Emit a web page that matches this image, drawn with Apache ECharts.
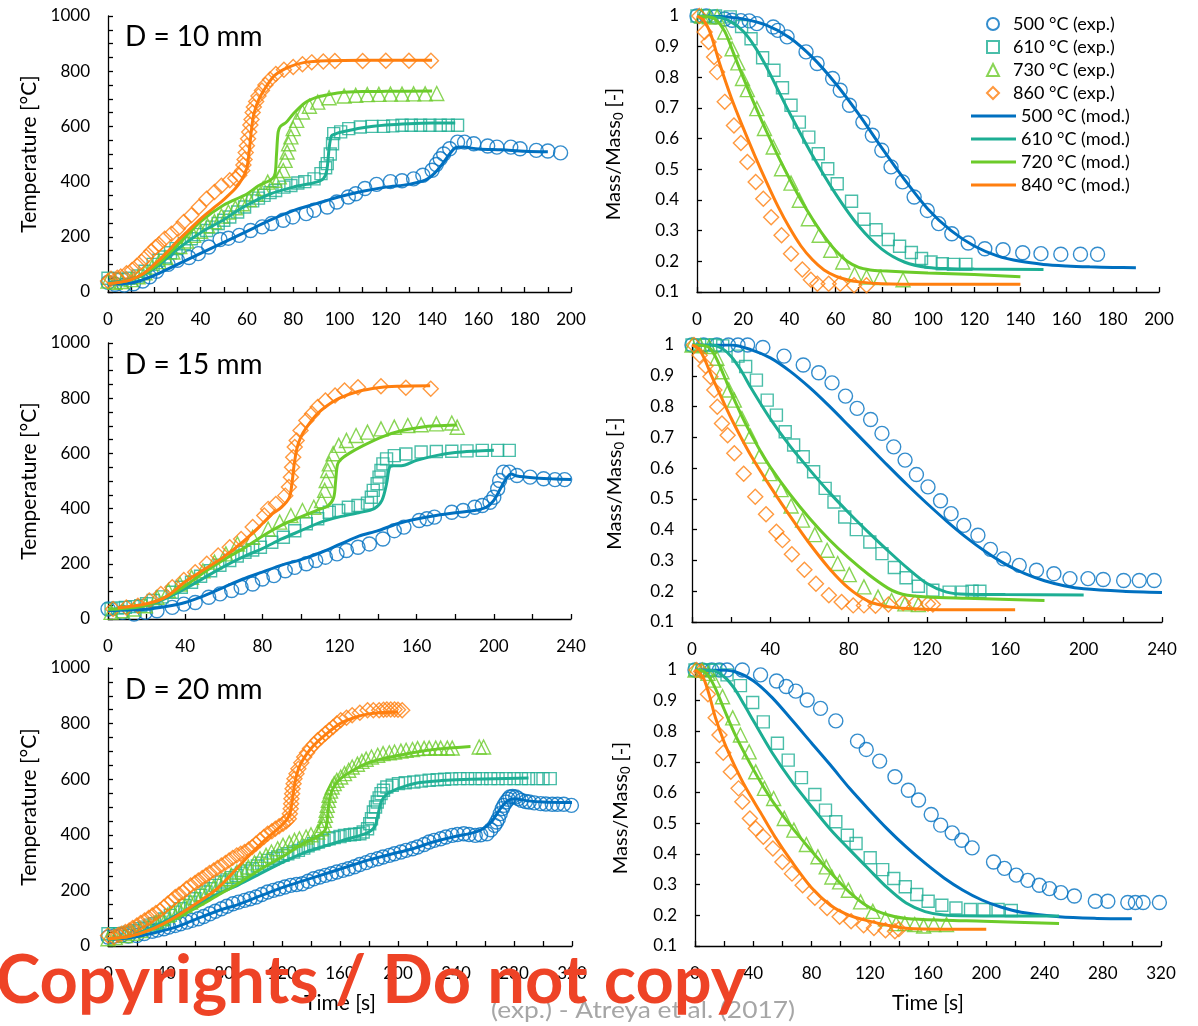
<!DOCTYPE html>
<html><head><meta charset="utf-8">
<script src="https://cdn.jsdelivr.net/npm/echarts@6/dist/echarts.min.js"></script>
<style>html,body{margin:0;padding:0;background:#fff}#c{width:1198px;height:1026px}</style>
</head><body><div id="c"></div>
<script>
// ---------- names / labels ----------
const expNames = ['500 °C (exp.)','610 °C (exp.)','730 °C (exp.)','860 °C (exp.)'];
const modNames = ['500 °C (mod.)','610 °C (mod.)','720 °C (mod.)','840 °C (mod.)'];
const panelTitles = ['D = 10 mm','D = 15 mm','D = 20 mm'];
const colors = ['#0070C0','#1DAE94','#6CCB2A','#FF7F0F'];

// ---------- D = 10 mm, temperature ----------
const d10T_exp500 = [[0,35],[3,28],[7,25],[11,30],[15,40],[18,55],[21,75],[26,100],[30,115],[35,125],[39,139],[43.5,163],[48.4,190],[52,195],[56.7,205],[61.6,223],[66.6,236],[70.7,248],[75.7,260],[79.8,272],[85.6,284],[89,296],[94.7,308],[98.8,326],[103.8,344],[107,356],[111,375],[116,390],[122,400],[127,403],[132,410],[136,423],[140,441],[141.8,462],[143.5,483],[145,500],[147.6,519],[151,543],[154,543],[158,537],[164,529],[168,525],[174,525],[178,519],[185,513],[190,511],[195.5,504]];
const d10T_exp610 = [[0,50],[3,48],[6,45],[9,50],[13,58],[16,75],[19.5,100],[22,115],[24.5,127],[27,142],[29.4,157],[33,175],[36,193],[39,208],[42.6,223],[45,235],[47.6,248],[50,260],[52.6,272],[56,290],[59,308],[62.5,330],[65,340],[67.4,350],[70,360],[72.4,368],[76,380],[79,386],[82,395],[85,400],[89,410],[92,429],[94,450],[94.7,465],[96,500],[97,537],[97.5,574],[100.5,580],[104,592],[109,598],[114,600],[119,600],[123,602],[127,604],[131,604],[135,604],[139,604],[143.5,604],[147,604],[151,604]];
const d10T_exp730 = [[0,40],[3,35],[6,38],[10,45],[13,55],[16,70],[19,90],[22,110],[25,125],[28,145],[31,165],[34,185],[37,205],[40,220],[43,240],[46,255],[49,275],[52,290],[55,305],[58,320],[61,335],[64,355],[67,375],[69,398],[72,405],[74,417],[75.7,440],[76.5,477],[77.4,507],[78,537],[79,562],[80,592],[81.5,622],[84,652],[87,673],[90.6,688],[95.5,704],[102,710],[107,713],[112,715],[117,716],[122,717],[127,717],[132,718],[137,718],[142,719]];
const d10T_exp860 = [[0,40],[1.3,48],[4,52],[5.5,56],[8,68],[10.4,80],[12.5,95],[14.5,110],[16.5,128],[18.7,148],[20.5,162],[22,172],[24.5,193],[27.4,211],[30.2,229],[32.7,254],[36,278],[39.3,308],[42.6,338],[46,362],[49,385],[52.6,405],[55,412],[56.7,423],[58,440],[58.5,460],[59,480],[59.5,505],[60,530],[60.5,555],[61,580],[61.5,605],[62,625],[62.5,650],[63,670],[64,690],[65,710],[66.5,730],[68,750],[70,770],[72.5,790],[76,805],[80,815],[84,825],[88,832],[93,835],[98,837],[110,837],[120,838],[130,838],[139.5,838]];
const d10T_mod500 = [[0,30],[10,33],[20,60],[30,100],[40,140],[50,180],[60,220],[70,260],[80,295],[90,320],[100,345],[110,365],[120,380],[130,390],[137,405],[141,430],[145,470],[148,505],[150,522],[153,525],[160,518],[170,515],[180,510],[190,508]];
const d10T_mod610 = [[0,35],[10,45],[20,85],[30,155],[40,215],[50,262],[55,290],[60,315],[70,355],[80,380],[90,398],[93,410],[94.5,440],[95.5,520],[96.5,565],[98,572],[100,578],[110,595],[120,605],[130,610],[140,612],[150,612]];
const d10T_mod720 = [[0,30],[10,45],[20,90],[30,170],[40,255],[50,315],[60,355],[65,385],[70,405],[72,420],[72.8,500],[73.5,580],[74.5,600],[77,615],[80,645],[85,685],[90,705],[95,715],[100,722],[110,726],[120,727],[140,728]];
const d10T_mod840 = [[0,30],[5,35],[10,45],[15,65],[20,100],[25,140],[30,185],[35,225],[40,265],[45,300],[50,335],[55,375],[58,410],[60,450],[61,510],[62,590],[63,645],[65,695],[68,740],[72,785],[78,815],[85,832],[95,838],[110,840],[140,840]];

// ---------- D = 10 mm, mass ----------
const d10M_exp500 = [[0,1],[4,1],[7.9,0.997],[12,0.99],[15.2,0.986],[19,0.985],[22.6,0.984],[25.9,0.975],[33,0.964],[35,0.953],[39,0.932],[47.2,0.883],[52,0.845],[58.7,0.796],[62,0.758],[66,0.709],[71.8,0.654],[75.9,0.611],[80,0.562],[84,0.508],[89,0.459],[94,0.41],[99.7,0.366],[104.6,0.323],[110.3,0.29],[117.4,0.26],[124.6,0.241],[132.5,0.238],[141,0.228],[148.9,0.225],[157.5,0.223],[166,0.223],[173.4,0.223]];
const d10M_exp610 = [[0,1],[3,1],[8,1],[14.4,0.997],[19.3,0.966],[23.4,0.926],[28.4,0.864],[33.3,0.823],[37,0.766],[40.7,0.709],[44.3,0.654],[48.4,0.605],[52.5,0.551],[56.6,0.502],[60.7,0.453],[66.9,0.396],[72.3,0.337],[77.5,0.303],[82.8,0.271],[87.7,0.249],[92.8,0.229],[97.2,0.209],[101.3,0.198],[106.2,0.192],[111,0.19],[116.4,0.19]];
const d10M_exp730 = [[2,1],[5.4,0.997],[8.7,0.997],[12,0.948],[15.2,0.893],[17.7,0.847],[19.7,0.796],[21.8,0.76],[25.9,0.698],[29.2,0.633],[33,0.573],[36.6,0.502],[40.7,0.455],[44.3,0.399],[48.2,0.339],[52.9,0.285],[57.9,0.236],[63.1,0.198],[68.2,0.157],[73.4,0.149],[79.3,0.147],[89.2,0.14]];
const d10M_exp860 = [[1,1],[3.3,0.948],[5,0.915],[7.4,0.866],[8.7,0.817],[12,0.72],[16,0.643],[19,0.586],[21.8,0.524],[25.4,0.459],[28.7,0.404],[32.1,0.344],[36.6,0.285],[40.7,0.225],[45.6,0.173],[49.3,0.14],[52.1,0.127],[57,0.127],[62,0.127],[68,0.122],[73.4,0.122]];
const d10M_mod500 = [[0,1],[10,0.998],[20,0.99],[30,0.97],[40,0.93],[50,0.865],[60,0.78],[70,0.68],[80,0.57],[90,0.465],[100,0.37],[110,0.3],[120,0.25],[130,0.218],[140,0.2],[150,0.19],[160,0.185],[170,0.182],[180,0.18],[190,0.179]];
const d10M_mod610 = [[0,1],[10,0.995],[15,0.98],[20,0.95],[25,0.9],[30,0.835],[35,0.76],[40,0.685],[50,0.545],[60,0.42],[70,0.315],[80,0.24],[90,0.197],[100,0.18],[110,0.176],[120,0.175],[150,0.173]];
const d10M_mod720 = [[0,1],[5,0.997],[8,0.99],[12,0.95],[16,0.875],[20,0.8],[25,0.71],[30,0.625],[35,0.545],[40,0.47],[45,0.4],[50,0.338],[55,0.282],[60,0.235],[65,0.2],[70,0.18],[75,0.172],[80,0.169],[100,0.162],[120,0.157],[140,0.15]];
const d10M_mod840 = [[0,1],[3,0.985],[6,0.94],[10,0.84],[15,0.73],[20,0.635],[25,0.545],[30,0.46],[35,0.38],[40,0.31],[45,0.25],[50,0.205],[55,0.172],[60,0.152],[65,0.14],[70,0.133],[80,0.127],[100,0.125],[140,0.125]];

// ---------- D = 15 mm, temperature ----------
const d15T_exp500 = [[0,36],[7.5,24],[13.5,18],[19.4,24],[25.4,30],[33.3,42],[39.3,54],[45.2,60],[52.2,79],[58.1,91],[64.1,103],[69,115],[75,127],[80,145],[86,157],[91.9,175],[96.8,187],[102.8,200],[107.7,212],[112.7,224],[118.7,236],[123.6,248],[129.6,260],[135.5,272],[142.5,290],[148.4,320],[153.4,333],[161.3,357],[165.3,363],[169.2,369],[178.2,387],[184.1,393],[190.1,405],[194,411],[198,423],[200,441],[202,472],[203,502],[205,532],[208,532],[212,520],[218.8,514],[225.8,508],[231.7,505],[236.7,505]];
const d15T_exp610 = [[1.6,36],[5,40],[9,42],[13,45],[17,48],[20,55],[23.4,67],[28,80],[33.3,97],[38,115],[43.3,133],[48,155],[53.2,175],[58,195],[63.1,212],[67,228],[71,242],[75,250],[79,260],[84.9,278],[90.9,296],[96.8,320],[102.8,345],[108.7,363],[114.7,387],[119.6,393],[124.6,405],[129.6,411],[134.5,420],[136.5,441],[137.5,466],[139.5,490],[140.5,514],[141.5,538],[142.5,562],[144.4,580],[148.4,592],[154.4,598],[162.3,605],[170.2,607],[178.2,608],[186.1,609],[194,611],[202,611],[208,611]];
const d15T_exp730 = [[1.6,24],[7.5,30],[13.5,36],[19.4,48],[25.4,79],[31.3,103],[37.3,127],[43.3,151],[49.2,175],[55.2,206],[61.1,236],[67.1,272],[75,296],[83,326],[89,351],[94.8,375],[100.8,393],[106.7,405],[110.7,429],[112.3,466],[113.1,502],[113.9,538],[114.7,562],[116.7,599],[119.6,629],[123.6,647],[128.6,665],[134.5,677],[141.5,689],[148.4,695],[155.4,701],[162.3,704],[170.2,707],[178.2,710],[181,695]];
const d15T_exp860 = [[2.6,36],[9.5,42],[15.5,48],[21.4,67],[27.4,91],[33.3,115],[39.3,141],[45.2,169],[51.2,200],[57.1,230],[63.1,260],[69,290],[75,333],[81,375],[83,399],[87,417],[91.9,447],[93.8,478],[94.8,514],[95.4,550],[96,586],[96.8,623],[97.8,647],[99.8,683],[102.8,719],[105.8,744],[108.7,768],[112.7,792],[117.7,810],[122.6,828],[129.6,840],[141.5,843],[154.4,838],[167.3,834]];
const d15T_mod500 = [[0,30],[20,35],[30,45],[40,60],[50,85],[60,115],[70,145],[80,170],[90,195],[100,215],[110,240],[120,270],[130,300],[140,320],[150,345],[160,362],[170,375],[180,385],[190,393],[196,405],[200,430],[204,480],[207,515],[209,525],[212,518],[220,512],[230,508],[240,505]];
const d15T_mod610 = [[0,35],[10,38],[20,50],[30,75],[40,110],[50,150],[60,190],[70,225],[80,255],[90,290],[100,320],[110,350],[120,370],[130,385],[138,400],[142,430],[144.4,490],[146,550],[148,555],[152,555],[160,575],[170,592],[180,603],[190,608],[200,611]];
const d15T_mod720 = [[0,35],[10,40],[20,50],[30,80],[40,120],[50,170],[60,215],[70,255],[80,300],[90,340],[100,370],[108,393],[114,410],[117,440],[118,500],[119,560],[121,580],[125,600],[132.5,629],[142.5,661],[152.4,683],[162.3,695],[170,700],[181,703]];
const d15T_mod840 = [[5,40],[20,55],[30,80],[40,135],[50,180],[60,225],[70,280],[80,345],[85,380],[90,405],[94,440],[95.5,500],[96.5,560],[98,620],[100,660],[103,695],[108,740],[113,770],[120,800],[130,825],[140,838],[150,843],[167,845]];

// ---------- D = 15 mm, mass ----------
const d15M_exp500 = [[0,1],[5.9,1],[12.7,1],[18.6,1],[23.5,1],[28.4,1],[36.2,0.992],[47,0.964],[56.8,0.935],[64.7,0.91],[71.5,0.877],[78.4,0.834],[84.3,0.794],[91.2,0.758],[97,0.713],[103,0.669],[108.8,0.626],[114.6,0.579],[120.5,0.539],[126.9,0.494],[132.3,0.452],[138.8,0.414],[146,0.382],[152.4,0.336],[159.1,0.305],[167.1,0.284],[175.9,0.268],[184.8,0.257],[193,0.241],[202.2,0.241],[210,0.238],[220.4,0.235],[228.4,0.235],[236,0.235]];
const d15M_exp610 = [[0,1],[3.9,1],[7.8,1],[11.8,1],[15.7,0.997],[23.5,0.964],[27.4,0.93],[32.9,0.886],[38.4,0.821],[43.1,0.772],[47.6,0.718],[51.9,0.675],[56.8,0.637],[62.1,0.588],[68,0.534],[72.5,0.49],[78,0.441],[83.9,0.4],[90.8,0.36],[97,0.322],[103.3,0.277],[109.3,0.244],[115.6,0.216],[123,0.203],[131.3,0.197],[138,0.197],[143,0.2],[147,0.2]];
const d15M_exp730 = [[0,1],[4.3,0.997],[8.8,0.995],[12.7,0.957],[15.3,0.913],[18.8,0.854],[21.6,0.821],[25.5,0.761],[29.8,0.704],[34.5,0.639],[39.8,0.582],[45.5,0.53],[50.6,0.477],[56.4,0.431],[62.7,0.384],[69,0.333],[74.4,0.29],[80.3,0.254],[87.8,0.214],[95,0.181],[101.9,0.17],[108.7,0.159],[115.6,0.157]];
const d15M_exp860 = [[1,1],[3.9,0.967],[6.9,0.932],[9.4,0.897],[11.4,0.854],[12.9,0.799],[15.3,0.745],[18.2,0.707],[21.6,0.648],[26.4,0.582],[32.3,0.507],[37.8,0.45],[43.1,0.393],[46.2,0.366],[51,0.32],[57.4,0.27],[63.3,0.224],[69.9,0.187],[76.4,0.165],[82.3,0.154],[87.8,0.154],[93.7,0.153],[100.3,0.157],[107.8,0.162],[114,0.162],[120.5,0.159],[123,0.157]];
const d15M_mod500 = [[0,1],[20,1],[30,0.985],[40,0.958],[50,0.915],[60,0.862],[70,0.802],[80,0.738],[90,0.673],[100,0.608],[110,0.545],[120,0.485],[130,0.428],[140,0.375],[150,0.328],[160,0.288],[170,0.257],[180,0.234],[190,0.218],[200,0.208],[220,0.2],[240,0.196]];
const d15M_mod610 = [[0,1],[10,1],[15,0.99],[20,0.963],[25,0.918],[30,0.862],[40,0.76],[50,0.672],[60,0.595],[70,0.522],[80,0.455],[90,0.392],[100,0.332],[110,0.275],[120,0.225],[130,0.197],[140,0.19],[160,0.189],[200,0.188]];
const d15M_mod720 = [[0,1],[8,0.995],[12,0.962],[16,0.905],[20,0.845],[25,0.775],[30,0.712],[35,0.655],[40,0.603],[50,0.515],[60,0.437],[70,0.368],[80,0.308],[90,0.255],[100,0.21],[105,0.195],[110,0.187],[120,0.181],[140,0.177],[180,0.17]];
const d15M_mod840 = [[0,1],[3,0.99],[6,0.96],[10,0.9],[15,0.83],[20,0.762],[25,0.7],[30,0.642],[40,0.54],[50,0.445],[60,0.355],[70,0.275],[80,0.21],[90,0.168],[100,0.15],[110,0.144],[130,0.14],[165,0.14]];

// ---------- D = 20 mm, temperature ----------
const d20T_exp500 = [[0,32],[4,35],[9.3,38],[14,36],[19.9,38],[25,45],[30.5,53],[34,57],[38.5,62],[42,68],[46.4,74],[50,80],[54.4,86],[58,92],[62.3,98],[66,106],[70.3,116],[74,125],[78.2,134],[82,143],[86.2,152],[90,158],[94.2,164],[98,170],[102.1,176],[106,185],[110.1,194],[114,200],[118,206],[122,212],[126,218],[130,221],[134,224],[138,233],[141.9,242],[146,248],[149.9,254],[154,260],[157.8,266],[162,272],[165.8,278],[170,285],[173.7,293],[178,300],[181.7,308],[186,314],[189.7,320],[194,326],[197.6,332],[202,338],[205.6,344],[210,350],[213.5,356],[218,365],[221.5,374],[225,380],[229.4,386],[233,392],[237.4,398],[241,401],[245.4,404],[249,401],[253.3,398],[257,400],[261.3,404],[264,418],[266.6,434],[268,446],[269.2,458],[270.5,476],[271.9,494],[273,506],[274.5,518],[276,528],[277.2,536],[279,538],[281.2,536],[283,530],[285.1,524],[288,520],[290.5,518],[294,515],[298.4,512],[302,511],[306.4,510],[310,510],[314.3,510],[319.6,506]];
const d20T_exp610 = [[0,44],[4,44],[8,44],[12,46],[14.6,50],[18,55],[22,62],[25.2,68],[29,75],[32,80],[35.8,86],[39,97],[43,110],[46.4,122],[50,134],[53,146],[57,158],[60,170],[64,182],[67.6,194],[71,206],[74,218],[78.2,230],[82,238],[85,246],[88.8,254],[92,262],[96,270],[99.5,278],[103,288],[106,298],[110.1,308],[114,314],[117,320],[120.7,326],[124,332],[128,338],[131.3,344],[135,352],[138,360],[141.9,368],[145,374],[149,380],[152.5,386],[156,390],[160,394],[163.1,398],[167,400],[170,402],[173.7,404],[176,410],[179,422],[180.5,440],[181.7,458],[183,482],[184.5,500],[185.7,518],[187,533],[188.3,548],[190,560],[192.3,572],[196,578],[200.3,584],[205,587],[210.9,590],[216,593],[221.5,596],[227,598],[232.1,600],[237,601],[242.7,602],[248,602],[253.3,602],[258,602],[263.9,602],[269,602],[274.5,602],[280,602],[285.1,602],[290,602],[295.8,602],[300,602],[305,602]];
const d20T_exp730 = [[0,26],[5,30],[11.9,38],[17,46],[22.5,56],[28,70],[33.2,86],[37,98],[41.1,110],[45,122],[49.1,134],[53,146],[57,158],[61,173],[65,188],[69,200],[72.9,212],[77,227],[80.9,242],[85,254],[88.9,266],[93,275],[96.8,284],[101,299],[104.8,314],[109,326],[112.7,338],[117,350],[120.7,362],[125,371],[128.6,380],[132,386],[136.6,392],[140,400],[144.6,410],[147,422],[148.5,434],[149.2,452],[149.9,470],[150.5,488],[151.2,506],[152,524],[152.5,542],[153.5,557],[154.6,572],[156,584],[157.8,596],[160.5,608],[163.1,620],[166,632],[168.4,644],[172,654],[175.1,664],[178,672],[181.7,680],[186,686],[189.7,692],[194,695],[197.6,698],[202,701],[205.6,704],[210,707],[213.5,710],[218,711],[221.5,712],[226,712],[229.4,712],[234,712],[237.4,712],[256,716],[259,716]];
const d20T_exp860 = [[0,38],[4,32],[7,40],[9.3,44],[12,50],[14.6,56],[17,65],[19.9,74],[22.5,83],[25.2,92],[28,101],[30.5,110],[33,119],[35.8,128],[38.5,140],[41.1,152],[44,164],[46.4,176],[49,185],[51.7,194],[54,206],[57,218],[60,227],[62.3,236],[65,245],[67.6,254],[70,263],[72.9,272],[75.5,281],[78.2,290],[81,299],[83.5,308],[86,317],[88.8,326],[91.5,332],[94.2,338],[97,347],[99.5,356],[102,368],[104.8,380],[107.5,392],[110.1,404],[113,413],[115.4,422],[118,431],[120.7,440],[123,449],[124.7,458],[125.4,476],[126,494],[126.3,512],[126.5,530],[127,548],[127.3,566],[128,584],[128.6,602],[130,620],[131.3,638],[133.3,659],[135.3,680],[137.3,695],[139.3,710],[142,725],[144.6,740],[147.3,752],[149.9,764],[152.5,776],[155.2,788],[157.8,800],[160.5,812],[164.5,821],[168.4,830],[173.7,839],[179,848],[183,848],[187,848],[190,850],[192.3,851],[195,851],[197.6,851],[200,850],[202.9,848]];
const d20T_mod500 = [[0,25],[15,30],[30,45],[45,65],[60,95],[75,125],[90,150],[105,180],[120,210],[135,235],[150,260],[165,285],[180,310],[195,330],[210,350],[225,375],[240,395],[250,405],[258,420],[265,450],[270,490],[275,520],[280,530],[290,522],[300,518],[320,516]];
const d20T_mod610 = [[0,25],[15,35],[30,65],[45,105],[60,145],[75,185],[90,220],[105,260],[120,300],[135,335],[150,360],[165,385],[178,405],[184,430],[186.5,480],[188.5,520],[192,545],[197,560],[205,575],[215,588],[230,595],[250,600],[290,604]];
const d20T_mod720 = [[0,25],[15,35],[30,60],[45,95],[60,135],[75,180],[90,225],[105,275],[120,320],[135,370],[145,395],[150,420],[151.5,470],[152.5,520],[155,565],[160,600],[170,635],[180,660],[190,675],[200,685],[215,700],[230,710],[250,718]];
const d20T_mod840 = [[0,26],[15,35],[30,60],[45,100],[60,150],[75,205],[90,285],[100,340],[110,390],[120,435],[125,470],[127,520],[129,590],[132,645],[137,690],[142,722],[150,760],[160,800],[170,822],[180,835],[190,840],[200,842]];

// ---------- D = 20 mm, mass ----------
const d20M_exp500 = [[0,1],[5,1],[11.5,1],[16.8,1],[22,1],[32.5,1],[45,0.984],[56,0.964],[62.6,0.946],[69.2,0.931],[77,0.902],[86.2,0.875],[96.7,0.834],[111.6,0.768],[117.6,0.741],[126.8,0.703],[137.3,0.652],[146.5,0.608],[153.5,0.576],[162.2,0.529],[168.7,0.494],[176.6,0.469],[183.2,0.445],[190.3,0.42],[205,0.374],[212.5,0.353],[220.6,0.331],[228.5,0.314],[236.4,0.298],[243.4,0.287],[251.3,0.274],[260.5,0.263],[274.9,0.246],[283.5,0.246],[297.2,0.242],[302.4,0.242],[307.7,0.242],[318.9,0.242]];
const d20M_exp610 = [[0,1],[5,1],[10,1],[14.2,1],[22,0.984],[31.2,0.949],[39.6,0.894],[46.9,0.831],[56.6,0.761],[64,0.706],[73.1,0.649],[82.3,0.594],[89.6,0.543],[96.7,0.505],[104.6,0.461],[110.6,0.434],[120.3,0.388],[128.9,0.349],[136.5,0.32],[144.4,0.293],[152.3,0.268],[160.1,0.246],[169.5,0.233],[179.2,0.224],[189.2,0.219],[198.4,0.219],[208.1,0.219],[217.2,0.216]];
const d20M_exp730 = [[0,1],[5,1],[8.9,0.989],[12.8,0.967],[18.9,0.913],[25.9,0.844],[31.2,0.788],[37.2,0.733],[41.7,0.668],[47.7,0.614],[54,0.581],[61.3,0.516],[67.9,0.478],[76.5,0.431],[84.4,0.391],[90.1,0.358],[94,0.325],[99.3,0.309],[105.3,0.282],[113.7,0.244],[122.1,0.213],[130.8,0.189],[138.1,0.173],[144.1,0.173],[150.9,0.17],[157,0.165],[164,0.17],[172.7,0.17]];
const d20M_exp860 = [[1,1],[4.2,0.995],[8.9,0.921],[14.2,0.844],[16.8,0.788],[19.4,0.73],[24.6,0.668],[29.9,0.614],[32.5,0.57],[37.7,0.516],[41.7,0.483],[46.9,0.456],[53.5,0.418],[60,0.374],[66.6,0.336],[73.9,0.298],[82.3,0.257],[90.7,0.224],[99.3,0.195],[107.2,0.181],[115.8,0.168],[122.9,0.159],[130.8,0.151],[137.3,0.148],[140,0.155]];
const d20M_mod500 = [[0,1],[15,1],[27,0.995],[40,0.965],[53,0.91],[66,0.84],[80,0.762],[93,0.69],[106,0.615],[119,0.547],[132,0.482],[145,0.423],[158,0.37],[171,0.322],[184,0.282],[197,0.25],[210,0.227],[224,0.21],[250,0.195],[276,0.19],[300,0.189]];
const d20M_mod610 = [[0,1],[12,0.998],[20,0.978],[27,0.94],[34,0.885],[40,0.835],[53,0.73],[66,0.64],[80,0.555],[93,0.48],[106,0.415],[119,0.352],[132,0.29],[145,0.24],[158,0.212],[171,0.201],[198,0.198],[250,0.198]];
const d20M_mod720 = [[0,1],[6,0.995],[10,0.975],[14,0.94],[20,0.872],[27,0.795],[35,0.72],[45,0.635],[55,0.56],[66,0.49],[80,0.41],[93,0.34],[106,0.276],[119,0.228],[132,0.202],[145,0.19],[171,0.184],[198,0.181],[250,0.173]];
const d20M_mod840 = [[0,1],[3,0.99],[6,0.972],[10,0.915],[14,0.845],[20,0.765],[27,0.69],[35,0.615],[45,0.535],[55,0.455],[66,0.378],[80,0.29],[93,0.233],[106,0.2],[119,0.182],[132,0.168],[145,0.158],[171,0.155],[200,0.155]];

// ---------- axis ranges / ticks ----------
const tempTicks = {min:0, max:1000, interval:200};
const massTicks = {min:0.1, max:1, interval:0.1};
const timeRanges = [{max:200, interval:20},{max:200, interval:20},{max:240, interval:40},{max:240, interval:40},{max:320, interval:40},{max:320, interval:40}];

// ---------- build ----------
const FONT = 'Lato, "Open Sans", sans-serif';
const panels = [
  {exp:[d10T_exp500,d10T_exp610,d10T_exp730,d10T_exp860], mod:[d10T_mod500,d10T_mod610,d10T_mod720,d10T_mod840]},
  {exp:[d10M_exp500,d10M_exp610,d10M_exp730,d10M_exp860], mod:[d10M_mod500,d10M_mod610,d10M_mod720,d10M_mod840]},
  {exp:[d15T_exp500,d15T_exp610,d15T_exp730,d15T_exp860], mod:[d15T_mod500,d15T_mod610,d15T_mod720,d15T_mod840]},
  {exp:[d15M_exp500,d15M_exp610,d15M_exp730,d15M_exp860], mod:[d15M_mod500,d15M_mod610,d15M_mod720,d15M_mod840]},
  {exp:[d20T_exp500,d20T_exp610,d20T_exp730,d20T_exp860], mod:[d20T_mod500,d20T_mod610,d20T_mod720,d20T_mod840]},
  {exp:[d20M_exp500,d20M_exp610,d20M_exp730,d20M_exp860], mod:[d20M_mod500,d20M_mod610,d20M_mod720,d20M_mod840]}
];
const grids = [
  {left:108, top:16, width:463, height:276},
  {left:697, top:16, width:462, height:276},
  {left:108, top:343, width:463, height:276},
  {left:692, top:345, width:470, height:277},
  {left:108, top:668, width:464, height:278},
  {left:695, top:670, width:466, height:276}
];
const symbols = ['circle','rect','triangle','diamond'];
const symSizes = [14, 12, 14, 15];
const tickStyle = {color:'#000', width:1.3};
const xAxes = [], yAxes = [], series = [];
grids.forEach((g,i)=>{
  const isTemp = i%2===0;
  const bottomRow = i>=4;
  xAxes.push({
    type:'value', gridIndex:i, min:0, max:timeRanges[i].max, interval:timeRanges[i].interval,
    axisLine:{show:true, onZero:false, lineStyle:{color:'#000', width:1.3}},
    axisTick:{show:true, inside:true, length:5, lineStyle:tickStyle},
    minorTick:{show:true, splitNumber:2, length:5, lineStyle:tickStyle},
    splitLine:{show:false}, minorSplitLine:{show:false},
    axisLabel:{color:'#000', fontFamily:FONT, fontSize:17, margin:19},
    name: bottomRow ? 'Time [s]' : '', nameLocation:'middle', nameGap:47,
    nameTextStyle:{color:'#000', fontFamily:FONT, fontSize:21}
  });
  if (isTemp) {
    yAxes.push({
      type:'value', gridIndex:i, min:tempTicks.min, max:tempTicks.max, interval:tempTicks.interval,
      axisLine:{show:true, onZero:false, lineStyle:{color:'#000', width:1.3}},
      axisTick:{show:true, inside:true, length:5, lineStyle:tickStyle},
      minorTick:{show:true, splitNumber:4, length:5, lineStyle:tickStyle},
      splitLine:{show:false}, minorSplitLine:{show:false},
      axisLabel:{color:'#000', fontFamily:FONT, fontSize:17, margin:18, formatter:v=>String(v)},
      name:'Temperature [°C]', nameLocation:'middle', nameGap:68, nameRotate:90,
      nameTextStyle:{color:'#000', fontFamily:FONT, fontSize:21}
    });
  } else {
    const gap = [0,72,0,66,0,63][i];
    yAxes.push({
      type:'value', gridIndex:i, min:massTicks.min, max:massTicks.max, interval:massTicks.interval,
      axisLine:{show:true, onZero:false, lineStyle:{color:'#000', width:1.3}},
      axisTick:{show:true, inside:true, length:5, lineStyle:tickStyle},
      splitLine:{show:false},
      axisLabel:{color:'#000', fontFamily:FONT, fontSize:17, margin:18, formatter:v=>String(Math.round(v*10)/10)},
      name:'Mass/Mass{s|0} [-]', nameLocation:'middle', nameGap:gap, nameRotate:90,
      nameTextStyle:{color:'#000', fontFamily:FONT, fontSize:20, rich:{s:{fontFamily:FONT, fontSize:13, padding:[10,0,0,0], color:'#000'}}}
    });
  }
  const p = panels[i];
  p.exp.forEach((d,k)=>{
    series.push({name:expNames[k], type:'scatter', xAxisIndex:i, yAxisIndex:i, data:d,
      symbol:symbols[k], symbolSize:symSizes[k],
      itemStyle:{color:'rgba(255,255,255,0)', borderColor:colors[k], borderWidth:1.4}, z:2});
  });
  p.mod.forEach((d,k)=>{
    series.push({name:modNames[k], type:'line', xAxisIndex:i, yAxisIndex:i, data:d,
      symbol:'none', smooth:0.3, color:colors[k],
      lineStyle:{color:colors[k], width:3}, z:3});
  });
});

function measure(text, font){
  const c = document.createElement('canvas').getContext('2d');
  c.font = font; return c.measureText(text).width;
}
const wmText = 'Copyrights / Do not copy';
const wmFont = 'bold 64px Lato';
const wmScale = 750 / measure(wmText, wmFont);
const srcText = '(exp.) - Atreya et al. (2017)';
const srcFont = '24px Lato';
const srcScale = 304 / measure(srcText, srcFont);

const chart = echarts.init(document.getElementById('c'), null, {renderer:'canvas'});
chart.setOption({
  animation:false,
  backgroundColor:'#fff',
  grid: grids,
  xAxis: xAxes,
  yAxis: yAxes,
  legend:[
    {data:expNames, orient:'vertical', left:981, top:10, itemWidth:12, itemHeight:12, itemGap:5,
     selectedMode:false, textStyle:{fontFamily:FONT, fontSize:18, color:'#000', padding:[0,0,0,9], lineHeight:18}},
    {data:modNames, orient:'vertical', left:966, top:102, itemWidth:45, itemHeight:3, itemGap:5, icon:'rect',
     selectedMode:false, textStyle:{fontFamily:FONT, fontSize:18, color:'#000', lineHeight:18}}
  ],
  series: series,
  graphic:[
    {type:'text', x:125, y:37, style:{text:panelTitles[0], font:'28px Lato', fill:'#000', verticalAlign:'middle'}},
    {type:'text', x:125, y:365, style:{text:panelTitles[1], font:'28px Lato', fill:'#000', verticalAlign:'middle'}},
    {type:'text', x:125, y:690, style:{text:panelTitles[2], font:'28px Lato', fill:'#000', verticalAlign:'middle'}},
    {type:'text', x:491, y:1010, scaleX:srcScale, z:90, style:{text:srcText, font:srcFont, fill:'#A6A6A6', verticalAlign:'middle'}},
    {type:'text', x:-4, y:981, scaleX:wmScale, scaleY:1.06, originY:0, z:100, style:{text:wmText, font:wmFont, fill:'#EE4326', verticalAlign:'middle'}}
  ]
});
</script></body></html>
